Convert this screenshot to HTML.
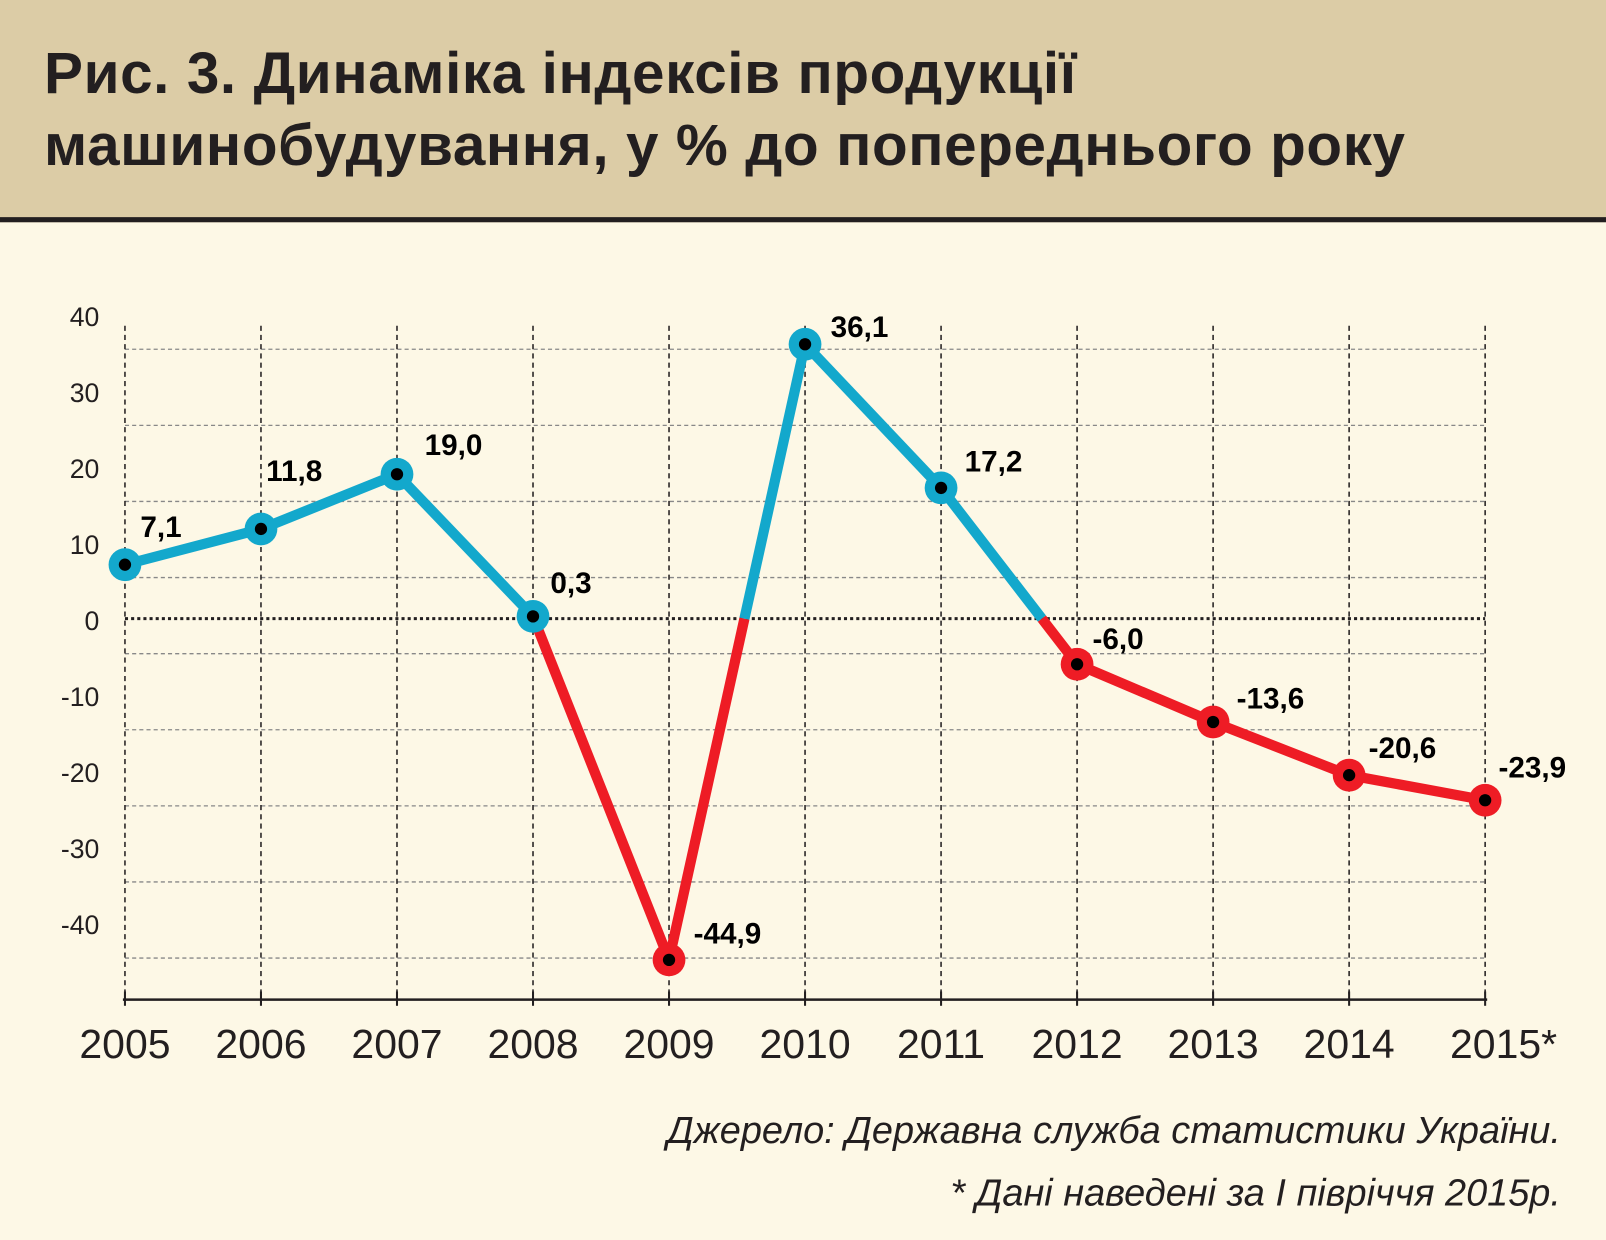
<!DOCTYPE html>
<html><head><meta charset="utf-8"><style>
html,body{margin:0;padding:0}
body{width:1606px;height:1240px;background:#fdf8e6;font-family:"Liberation Sans",sans-serif;overflow:hidden}
#wrap{position:absolute;left:0;top:0;width:1568px;height:1211px;transform:scale(1.02423);transform-origin:0 0}
#hdr{position:absolute;left:0;top:0;width:1568px;height:212px;background:#dccca6;border-bottom:5px solid #231f20}
#hdr h1{margin:0;position:absolute;left:43px;top:37px;font-size:57px;line-height:70px;font-weight:bold;color:#231f20;letter-spacing:0.6px}
.src{position:absolute;right:44px;font-style:italic;font-size:37px;color:#231f20}
</style></head><body>
<div id="wrap">
<div id="hdr"><h1>Рис. 3. Динаміка індексів продукції<br>машинобудування, у % до попереднього року</h1></div>
<svg id="c" width="1568" height="1211" style="position:absolute;left:0;top:0"></svg>
<div class="src" style="top:1083px">Джерело: Державна служба статистики України.</div>
<div class="src" style="top:1144px">* Дані наведені за I півріччя 2015р.</div>
</div>
<script>
const years=["2005","2006","2007","2008","2009","2010","2011","2012","2013","2014","2015*"];
const values=[7.1,11.8,19.0,0.3,-44.9,36.1,17.2,-6.0,-13.6,-20.6,-23.9];
const valueLabels=["7,1","11,8","19,0","0,3","-44,9","36,1","17,2","-6,0","-13,6","-20,6","-23,9"];
const yTicks=[40,30,20,10,0,-10,-20,-30,-40];
const labelDx=[15,5,27,17,24,25,23,15,23,19,13];
const labelDy=[-27,-47,-19,-23,-16,-7,-16,-15,-13,-17,-22];
const NS="http://www.w3.org/2000/svg";
const svg=document.getElementById('c');
const x=i=>122+i*132.8;
const y=v=>604-v*7.42;
function mk(t,a,p){const e=document.createElementNS(NS,t);for(const k in a)e.setAttribute(k,a[k]);(p||svg).appendChild(e);return e;}
for(let k=0;k<9;k++){const gy=341+k*74.3;if(Math.abs(gy-606)<10)continue;
const g=mk('line',{x1:122,x2:1450,y1:gy,y2:gy,stroke:'#888','stroke-width':1.3,'stroke-dasharray':'4 3'});
}
years.forEach((yr,i)=>{const g=mk('line',{x1:x(i),x2:x(i),y1:318,y2:975,stroke:'#231f20','stroke-width':1.5,'stroke-dasharray':'5 4'});

const t=mk('line',{x1:x(i),x2:x(i),y1:968,y2:982,stroke:'#231f20','stroke-width':2});

const l=mk('text',{x:x(i)+(i===10?18:0),y:1033,'text-anchor':'middle','font-size':40,fill:'#231f20'});l.textContent=yr;
});
const ax=mk('line',{x1:120,x2:1452,y1:976,y2:976,stroke:'#231f20','stroke-width':2.5});

const zl=mk('line',{x1:122,x2:1450,y1:y(0),y2:y(0),stroke:'#231f20','stroke-width':3,'stroke-dasharray':'3 3'});

yTicks.forEach(v=>{const l=mk('text',{x:97,y:606-v*7.42+9,'text-anchor':'end','font-size':26,fill:'#231f20'});l.textContent=v;
});
const BLUE='#13a8cc',RED='#ee1c25';
const col=v=>v>=0?BLUE:RED;
for(let i=0;i<values.length-1;i++){const a=values[i],b=values[i+1];
const segs=[];
if(i===3||(a>=0)===(b>=0)){segs.push([x(i),y(a),x(i+1),y(b),(a>=0&&b>=0)?BLUE:RED]);}
else{const t=a/(a-b);const xm=x(i)+t*(x(i+1)-x(i));segs.push([x(i),y(a),xm,y(0),col(a)]);segs.push([xm,y(0),x(i+1),y(b),col(b)]);}
segs.forEach(s=>{const l=mk('line',{x1:s[0],y1:s[1],x2:s[2],y2:s[3],stroke:s[4],'stroke-width':10});
});}
values.forEach((v,i)=>{const c=(i===4||i>=7)?RED:BLUE;
const g=mk('g',{});
mk('circle',{cx:x(i),cy:y(v),r:16,fill:c},g);mk('circle',{cx:x(i),cy:y(v),r:6,fill:'#000'},g);
const l=mk('text',{x:x(i)+labelDx[i],y:y(v)+labelDy[i],'font-size':29,'font-weight':'bold',fill:'#000'});l.textContent=valueLabels[i];
});
</script>
</body></html>
